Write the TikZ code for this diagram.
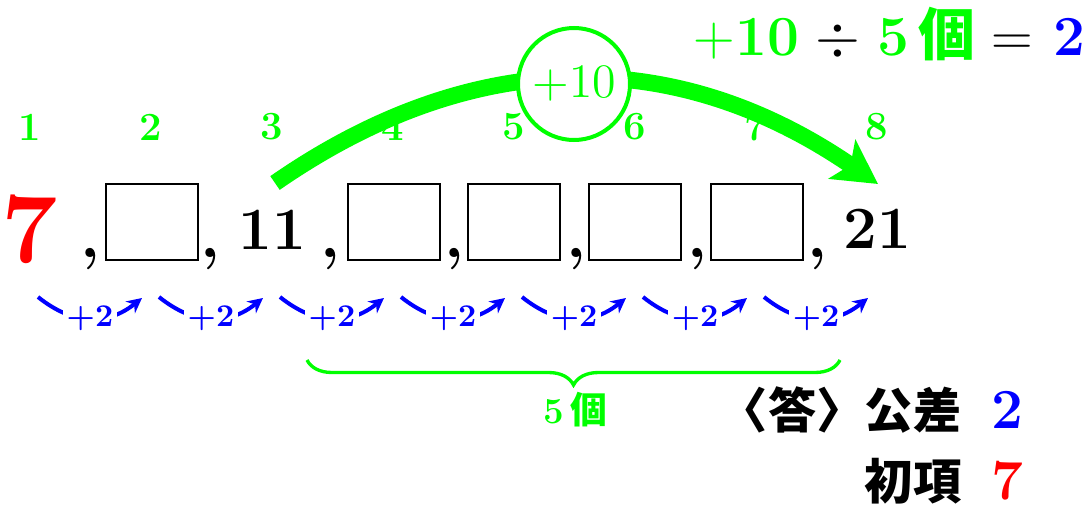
\documentclass[tikz,border=0pt]{standalone}
\usepackage{fontspec}
\newfontfamily\cjk{Noto Sans CJK JP}
\usepackage{tikz}
\usetikzlibrary{arrows.meta,decorations.pathreplacing,positioning,calc}

\begin{document}
\begin{tikzpicture}[x=0.3pt,y=-0.3pt,
  idx/.style={text=green,font=\fontsize{12}{14}\selectfont\bfseries},
  term/.style={font=\fontsize{18}{20}\selectfont\bfseries},
  blank/.style={draw,line width=0.6pt,minimum width=27.6pt,minimum height=22.8pt,inner sep=0pt},
  sep/.style={font=\fontsize{19}{20}\selectfont\bfseries,anchor=base,inner sep=0pt},
  diff/.style={text=blue,fill=white,inner sep=1.2pt,font=\fontsize{9.5}{10}\selectfont\bfseries},
  plustwo/.style={blue,line width=1.2pt,-{Stealth[length=4.5pt,width=4.5pt]}}]
\useasboundingbox (0,0) rectangle (1090,510);
% numbering of the terms
\foreach \i in {1,...,8}
  \node[idx] (idx\i) at ({30+121*(\i-1)},127) {\i};
% the sequence
\node[term,text=red,font=\fontsize{30}{32}\selectfont\bfseries] (t1) at (30,229) {7};
\node[term] (t3) at (272,230) {11};
\node[term] (t8) at (877,229) {21};
\foreach \i/\x in {2/152,4/394,5/514,6/635,7/757}
  \node[blank] (t\i) at (\x,222) {};
\foreach \x [count=\i] in {90,210,330,454,576,697,817}
  \node[sep] (c\i) at (\x,257) {,};
% common difference between neighbours
\foreach \i in {1,...,7}{
  \pgfmathsetmacro{\xa}{30+121*(\i-1)+8}
  \pgfmathsetmacro{\xb}{30+121*\i-9}
  \coordinate (s\i) at (\xa,297);
  \coordinate (e\i) at (\xb,298);
  \draw[plustwo] (s\i) .. controls +(35,28) and +(-35,28) .. (e\i) node[diff,pos=0.5] (d\i) {+2};
}
% jump from 11 to 21
\coordinate (arcS) at (275,183);
\coordinate (arcE) at (878,184);
\draw[green,line width=5pt,-{Stealth[length=13pt,width=14pt,inset=3pt]}] (arcS) .. controls (474,45) and (676,45) .. (arcE);
\node[circle,draw=green,line width=1.2pt,fill=white,minimum size=33.6pt,inner sep=0pt,text=green,font=\fontsize{15}{16}\selectfont] (ten) at (574,84) {$+10$};
% five blanks
\coordinate (brL) at (307,360);
\coordinate (brR) at (840,360);
\draw[green,line width=1pt,decorate,decoration={brace,mirror,amplitude=7.5pt}] (brL) -- (brR);
\node[text=green,font=\fontsize{11}{12}\selectfont\bfseries] (five) at (575,410) {5\,{\cjk 個}};
% calculation and answer
\node[anchor=base east,inner sep=0pt,font=\fontsize{17}{20}\selectfont] (calc) at (1086,55)
  {\textcolor{green}{$+$\textbf{10}}\hspace{5pt}$\div$\hspace{5pt}\textcolor{green}{\textbf{5}\,{\cjk\bfseries 個}}\hspace{5pt}$=$\hspace{6pt}\textcolor{blue}{\textbf{2}}};
\node[anchor=base east,inner sep=0pt,font=\fontsize{14.5}{18}\selectfont] (ans1) at (1024,428)
  {{\cjk\bfseries 〈答〉公差}\hspace{9pt}\textcolor{blue}{\fontsize{17}{18}\selectfont\bfseries 2}};
\node[anchor=base east,inner sep=0pt,font=\fontsize{14.5}{18}\selectfont] (ans2) at (1024,499)
  {{\cjk\bfseries 初項}\hspace{9pt}\textcolor{red}{\fontsize{17}{18}\selectfont\bfseries 7}};
\end{tikzpicture}
\end{document}
